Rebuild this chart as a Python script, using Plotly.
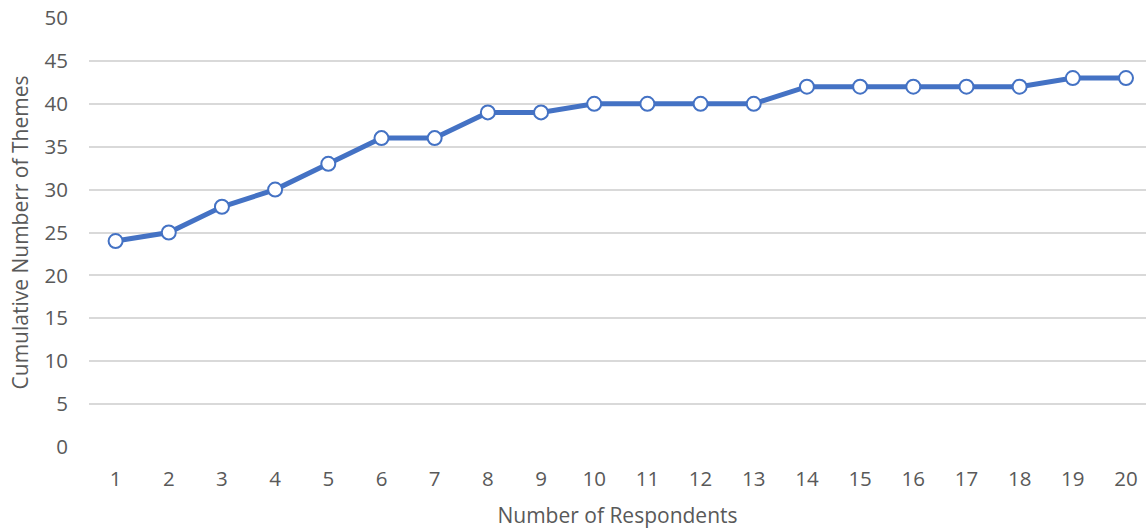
import plotly.graph_objects as go

respondents = list(range(1, 21))
cumulative_themes = [24, 25, 28, 30, 33, 36, 36, 39, 39, 40,
                     40, 40, 40, 42, 42, 42, 42, 42, 43, 43]
y_ticks = list(range(0, 51, 5))

font_family = "Open Sans, Noto Sans, sans-serif"
text_color = "#595959"

fig = go.Figure(
    go.Scatter(
        x=respondents,
        y=cumulative_themes,
        mode="lines+markers",
        line=dict(color="#4472C4", width=5),
        marker=dict(size=14, color="white",
                    line=dict(color="#4472C4", width=2)),
        showlegend=False,
    )
)

fig.update_layout(
    width=1146,
    height=531,
    margin=dict(l=89, r=0, t=18, b=84),
    plot_bgcolor="white",
    paper_bgcolor="white",
    font=dict(family=font_family, size=20, color=text_color),
    xaxis=dict(
        range=[0.5, 20.376],
        tickmode="array",
        tickvals=respondents,
        ticktext=[str(v) for v in respondents],
        showgrid=False,
        zeroline=False,
        showline=False,
        ticks="",
        ticklabelstandoff=17,
        title=dict(text="Number of Respondents", standoff=17,
                   font=dict(size=21, color=text_color)),
        tickfont=dict(size=20.5, color=text_color),
    ),
    yaxis=dict(
        range=[0, 50],
        tickmode="array",
        tickvals=y_ticks,
        showgrid=True,
        gridcolor="#D9D9D9",
        gridwidth=1.5,
        zeroline=False,
        showline=False,
        ticks="",
        ticklabelstandoff=20,
        title=dict(text="Cumulative Numberr of Themes", standoff=10,
                   font=dict(size=21, color=text_color)),
        tickfont=dict(size=20.5, color=text_color),
    ),
)

fig.write_html("out.html")
